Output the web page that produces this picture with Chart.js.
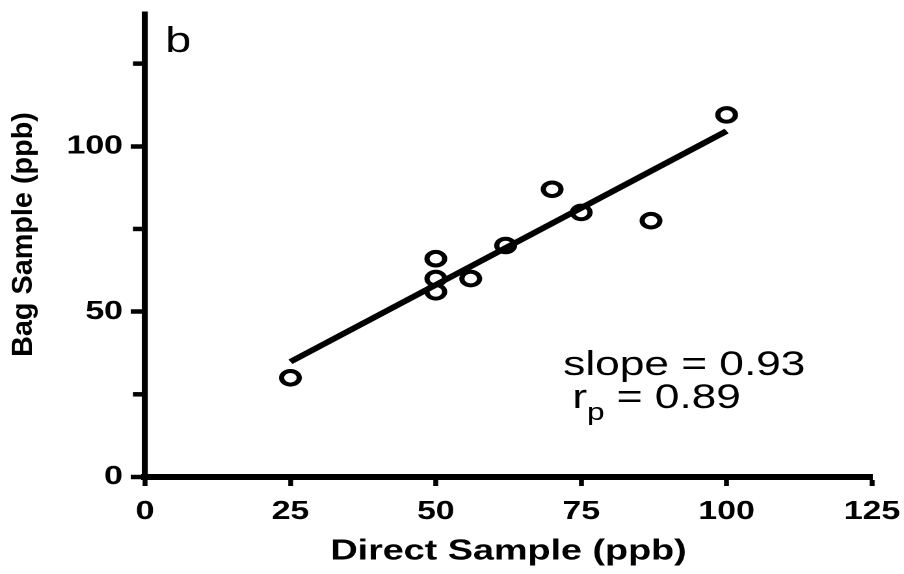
<!DOCTYPE html>
<html>
<head>
<meta charset="utf-8">
<title>Bag Sample vs Direct Sample</title>
<script src="https://cdn.jsdelivr.net/npm/chart.js@4.4.1/dist/chart.umd.min.js"></script>
<style>
  html, body { margin: 0; padding: 0; background: #fff; overflow: hidden; }
  /* the figure is drawn narrow and widened horizontally, like the printed panel */
  #wrap { width: 695px; height: 574px; transform: scaleX(1.30072); transform-origin: 0 0; }
  canvas { display: block; }
</style>
</head>
<body>
<div id="wrap"><canvas id="chart" width="695" height="574"></canvas></div>
<script>
// Paired measurements (ppb)
const directSample = [25, 50, 50, 50, 56, 62, 70, 75, 87, 100];
const bagSample    = [30, 66, 60, 56, 60, 70, 87, 80, 77.5, 109.5];

// Least-squares fit reported on the panel
const fitSlope = 0.93;
const fitIntercept = 11.6;
const fitRange = [25, 100];
const pearsonR = 0.89;

// Axis ticks
const xTickValues = [0, 25, 50, 75, 100, 125];
const yTickValues = [0, 50, 100];
const yMinorTicks = [25, 75, 125];

const panelLabel = 'b';
const xTitle = 'Direct Sample (ppb)';
const yTitle = 'Bag Sample (ppb)';

const STRETCH = 1.30072;
const FONT = '"Liberation Sans", Arial, Helvetica, sans-serif';
const Y_BORDER = 4.6;

const points = directSample.map((x, i) => ({ x: x, y: bagSample[i] }));
const fitLine = fitRange.map(x => ({ x: x, y: fitSlope * x + fitIntercept }));

// scales keep exactly the box they are given: no extra room for edge labels
function noEdgePadding(s) {
  s.paddingLeft = 0;
  s.paddingRight = 0;
  s.paddingTop = 0;
  s.paddingBottom = 0;
}

const annotations = {
  id: 'annotations',
  afterDraw(chart) {
    const ctx = chart.ctx;
    const ys = chart.scales.y;
    ctx.save();
    ctx.fillStyle = '#000';
    ctx.strokeStyle = '#000';

    // short minor ticks on the y axis
    ctx.lineWidth = 4.5;
    ctx.lineCap = 'butt';
    const edge = ys.right - Y_BORDER / 2;
    yMinorTicks.forEach(v => {
      const py = ys.getPixelForValue(v);
      ctx.beginPath();
      ctx.moveTo(edge, py);
      ctx.lineTo(edge - 7, py);
      ctx.stroke();
    });

    // panel letter
    ctx.textAlign = 'left';
    ctx.textBaseline = 'alphabetic';
    ctx.font = '36px ' + FONT;
    ctx.fillText(panelLabel, 127, 52);

    // fit statistics
    ctx.font = '34px ' + FONT;
    ctx.fillText('slope = ' + fitSlope.toFixed(2), 433, 375);
    let x = 440;
    ctx.fillText('r', x, 408);
    x += ctx.measureText('r').width;
    ctx.font = '24px ' + FONT;
    ctx.fillText('p', x, 420);
    x += ctx.measureText('p').width;
    ctx.font = '34px ' + FONT;
    ctx.fillText(' = ' + pearsonR.toFixed(2), x, 408);

    // y-axis title, rotated; glyphs kept at natural width after the stretch
    ctx.save();
    ctx.translate(24.6, 234.5);
    ctx.scale(1 / STRETCH, 1);
    ctx.rotate(-Math.PI / 2);
    ctx.textAlign = 'center';
    ctx.textBaseline = 'alphabetic';
    ctx.font = 'bold 28.8px ' + FONT;
    ctx.fillText(yTitle, 0, 0);
    ctx.restore();

    ctx.restore();
  }
};

new Chart(document.getElementById('chart'), {
  type: 'scatter',
  data: {
    datasets: [
      {
        label: 'samples',
        data: points,
        pointStyle: 'circle',
        pointRadius: 6.8,
        pointBorderWidth: 4,
        borderWidth: 4,
        borderColor: '#000',
        pointBorderColor: '#000',
        backgroundColor: 'rgba(0,0,0,0)',
        pointBackgroundColor: 'rgba(0,0,0,0)',
        showLine: false
      },
      {
        label: 'fit',
        data: fitLine,
        showLine: true,
        borderColor: '#000',
        borderWidth: 5.5,
        pointRadius: 0,
        fill: false
      }
    ]
  },
  options: {
    responsive: false,
    devicePixelRatio: 2,
    animation: false,
    layout: { padding: { left: 0, top: 14, right: 24.6, bottom: 0 } },
    plugins: { legend: { display: false }, tooltip: { enabled: false } },
    scales: {
      x: {
        type: 'linear',
        min: 0,
        max: 125,
        afterBuildTicks: s => { s.ticks = xTickValues.map(v => ({ value: v })); },
        afterFit: s => { s.height = 97; noEdgePadding(s); },
        border: { display: true, color: '#000', width: 6 },
        grid: { display: true, drawOnChartArea: false, drawTicks: true, tickLength: 9, tickWidth: 3.8, tickColor: '#000' },
        ticks: { color: '#000', font: { family: FONT, size: 26, weight: 'bold' }, padding: 10, maxRotation: 0, autoSkip: false },
        title: { display: true, text: xTitle, color: '#000', font: { family: FONT, size: 29, weight: 'bold' }, padding: { top: 0, bottom: 5 } }
      },
      y: {
        type: 'linear',
        min: 0,
        max: 140,
        afterBuildTicks: s => { s.ticks = yTickValues.map(v => ({ value: v })); },
        afterFit: s => { s.width = 111.5; noEdgePadding(s); },
        border: { display: true, color: '#000', width: Y_BORDER },
        grid: { display: true, drawOnChartArea: false, drawTicks: true, tickLength: 11, tickWidth: 4.5, tickColor: '#000' },
        ticks: { color: '#000', font: { family: FONT, size: 26, weight: 'bold' }, padding: 6, autoSkip: false },
        title: { display: false }
      }
    }
  },
  plugins: [annotations]
});
</script>
</body>
</html>
